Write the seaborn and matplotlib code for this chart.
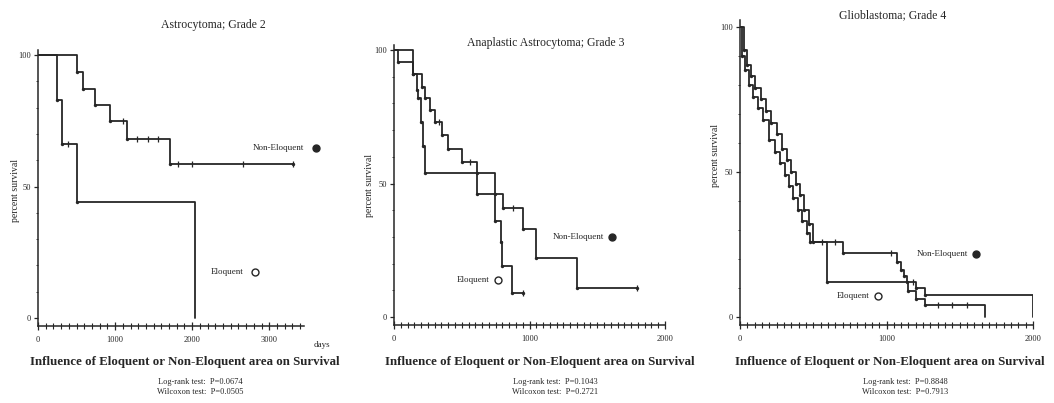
import numpy as np
import pandas as pd
import matplotlib
matplotlib.use('Agg')
import matplotlib.pyplot as plt
import seaborn as sns

# Kaplan-Meier curves (days, percent survival)
# Panel 1: Astrocytoma grade 2
p1_non_days = [0, 506, 584, 740, 935, 1156, 1714, 3312]
p1_non_surv = [100, 93.5, 87, 81, 75, 68, 58.5, 58.5]
p1_non_cens_days = [1104, 1286, 1428, 1558, 1818, 2000, 2662, 3312]
p1_non_cens_surv = [75, 68, 68, 68, 58.5, 58.5, 58.5, 58.5]
p1_elo_days = [0, 247, 312, 506, 2040]
p1_elo_surv = [100, 83, 66, 44, 0]
p1_elo_cens_days = [390]
p1_elo_cens_surv = [66]

# Panel 2: Anaplastic astrocytoma grade 3
p2_non_days = [0, 140, 206, 228, 265, 300, 353, 397, 500, 610, 743, 801, 949, 1051, 1353, 1794]
p2_non_surv = [100, 91, 86, 82, 77.5, 73, 68, 63, 58, 54, 46, 41, 33, 22, 11, 11]
p2_non_cens_days = [330, 560, 875, 1794]
p2_non_cens_surv = [73, 58, 41, 11]
p2_elo_days = [0, 30, 140, 170, 180, 200, 215, 230, 610, 745, 790, 800, 870, 950]
p2_elo_surv = [100, 95.5, 91, 85, 82, 73, 64, 54, 46, 36, 28, 19, 9, 9]
p2_elo_cens_days = [950]
p2_elo_cens_surv = [9]

# Panel 3: Glioblastoma grade 4
p3_non_days = [0, 25, 45, 75, 105, 140, 175, 215, 255, 290, 320, 350, 380, 410, 440, 470, 500,
               703, 1072, 1100, 1120, 1140, 1200, 1263, 2000]
p3_non_surv = [100, 92, 87, 83, 79, 75, 71, 67, 63, 58, 54, 50, 46, 42, 37, 32, 26,
               22, 19, 16, 14, 12, 10, 7.5, 0]
p3_non_cens_days = [650, 1030, 1180]
p3_non_cens_surv = [26, 22, 12]
p3_elo_days = [0, 15, 35, 60, 90, 125, 160, 200, 240, 275, 305, 335, 365, 395, 425, 455, 480,
               594, 1147, 1200, 1263, 1672]
p3_elo_surv = [100, 90, 85, 80, 76, 72, 68, 61, 57, 53, 49, 45, 41, 37, 33, 29, 26,
               12, 9, 6, 4, 0]
p3_elo_cens_days = [560, 1350, 1450, 1550]
p3_elo_cens_surv = [26, 4, 4, 4]

titles = ['Astrocytoma; Grade 2', 'Anaplastic Astrocytoma; Grade 3', 'Glioblastoma; Grade 4']
logrank_p = ['0.0674', '0.1043', '0.8848']
wilcoxon_p = ['0.0505', '0.2721', '0.7913']
xticks = [[0, 1000, 2000, 3000], [0, 1000, 2000], [0, 1000, 2000]]

curves = [
    (p1_non_days, p1_non_surv, p1_elo_days, p1_elo_surv),
    (p2_non_days, p2_non_surv, p2_elo_days, p2_elo_surv),
    (p3_non_days, p3_non_surv, p3_elo_days, p3_elo_surv),
]
censored = [
    (p1_non_cens_days, p1_non_cens_surv, p1_elo_cens_days, p1_elo_cens_surv),
    (p2_non_cens_days, p2_non_cens_surv, p2_elo_cens_days, p2_elo_cens_surv),
    (p3_non_cens_days, p3_non_cens_surv, p3_elo_cens_days, p3_elo_cens_surv),
]

rows = []
for i, (nd, ns, ed, es) in enumerate(curves):
    for d, s in zip(nd, ns):
        rows.append({'panel': i, 'group': 'Non-Eloquent', 'days': d, 'survival': s})
    for d, s in zip(ed, es):
        rows.append({'panel': i, 'group': 'Eloquent', 'days': d, 'survival': s})
df = pd.DataFrame(rows)

sns.set_style('ticks')
plt.rcParams['font.family'] = ['Liberation Serif', 'DejaVu Serif']

W, H = 1054, 403
fig = plt.figure(figsize=(W / 100, H / 100), dpi=100)

# layout in pixels: axes box (left, top, right, bottom), x/y limits
boxes = [(38, 50, 304, 326), (394, 45, 665, 325), (740, 20, 1033, 325)]
xlims = [(0, 3450), (0, 2000), (0, 2000)]
ylims = [(-3.0, 101.9), (-3.0, 101.9), (-2.8, 102.4)]
title_pos = [(213, 25), (546, 43), (893, 15)]
ylabel_pos = [(15, 190), (370, 185), (716, 155)]
bottom_center = [185, 540, 890]
label_non = [(3450, 64.6), (1551, 30), (1556, 21.7)]
label_elo = [(2660, 17.5), (706, 13.9), (887, 7.2)]
marker_off = [150, 60, 55]
minor_step = [100, 50, 50]

ink = '#262626'
for i in range(3):
    l, t, r, b = boxes[i]
    ax = fig.add_axes([l / W, 1 - b / H, (r - l) / W, (b - t) / H])
    sub = df[df['panel'] == i]
    sns.lineplot(data=sub, x='days', y='survival', hue='group',
                 palette={'Non-Eloquent': ink, 'Eloquent': ink},
                 estimator=None, sort=False, drawstyle='steps-post',
                 lw=1.3, legend=False, ax=ax)
    # small dots at each death step
    sns.scatterplot(data=sub[(sub['days'] > 0) & (sub['survival'] > 0)], x='days', y='survival',
                    color=ink, s=6, linewidth=0, legend=False, ax=ax)
    nc, ncs, ec, ecs = censored[i]
    ax.plot(nc + ec, ncs + ecs, ls='none', marker='|', ms=5, mew=0.9, color=ink)

    ax.set_xlim(*xlims[i])
    ax.set_ylim(*ylims[i])
    ax.set_xticks(xticks[i])
    ax.set_xticks(np.arange(0, xlims[i][1] + 1, minor_step[i]), minor=True)
    ax.set_yticks([0, 50, 100])
    ax.set_yticks(np.arange(0, 101, 10), minor=True)
    ax.tick_params(axis='x', which='major', direction='inout', length=6, width=0.9,
                   labelsize=6, pad=4, colors=ink)
    ax.tick_params(axis='x', which='minor', direction='inout', length=4, width=0.8, colors=ink)
    ax.tick_params(axis='y', which='major', direction='out', length=3, width=0.9,
                   labelsize=6, pad=2, colors=ink)
    ax.tick_params(axis='y', which='minor', direction='out', length=1.5, width=0.6, colors=ink)
    ax.set_xlabel('')
    ax.set_ylabel('')
    sns.despine(ax=ax)
    for sp in ['left', 'bottom']:
        ax.spines[sp].set_linewidth(1.1)
        ax.spines[sp].set_color(ink)

    # group labels with markers
    x, y = label_non[i]
    ax.text(x, y, 'Non-Eloquent', fontsize=6.5, ha='right', va='center', color=ink)
    ax.plot([x + marker_off[i]], [y], marker='o', ms=5, color=ink, clip_on=False)
    x, y = label_elo[i]
    ax.text(x, y, 'Eloquent', fontsize=6.5, ha='right', va='center', color=ink)
    ax.plot([x + marker_off[i]], [y], marker='o', ms=5, mfc='white', mec=ink, mew=1,
            clip_on=False)

    tx, ty = title_pos[i]
    fig.text(tx / W, 1 - ty / H, titles[i], fontsize=8.5, ha='center', va='center', color=ink)
    yx, yy = ylabel_pos[i]
    fig.text(yx / W, 1 - yy / H, 'percent survival', fontsize=7, rotation=90,
             ha='center', va='center', color=ink)
    cx = bottom_center[i]
    fig.text(cx / W, 1 - 362 / H, 'Influence of Eloquent or Non-Eloquent area on Survival',
             fontsize=9.3, fontweight='bold', ha='center', va='center', color=ink)
    fig.text((cx + 15) / W, 1 - 382 / H, f'Log-rank test:  P={logrank_p[i]}',
             fontsize=6, ha='center', va='center', color=ink)
    fig.text((cx + 15) / W, 1 - 392 / H, f'Wilcoxon test:  P={wilcoxon_p[i]}',
             fontsize=6, ha='center', va='center', color=ink)

fig.text(322 / W, 1 - 345 / H, 'days', fontsize=6.5, ha='center', va='center', color=ink)

fig.savefig('out.png', dpi=100)
